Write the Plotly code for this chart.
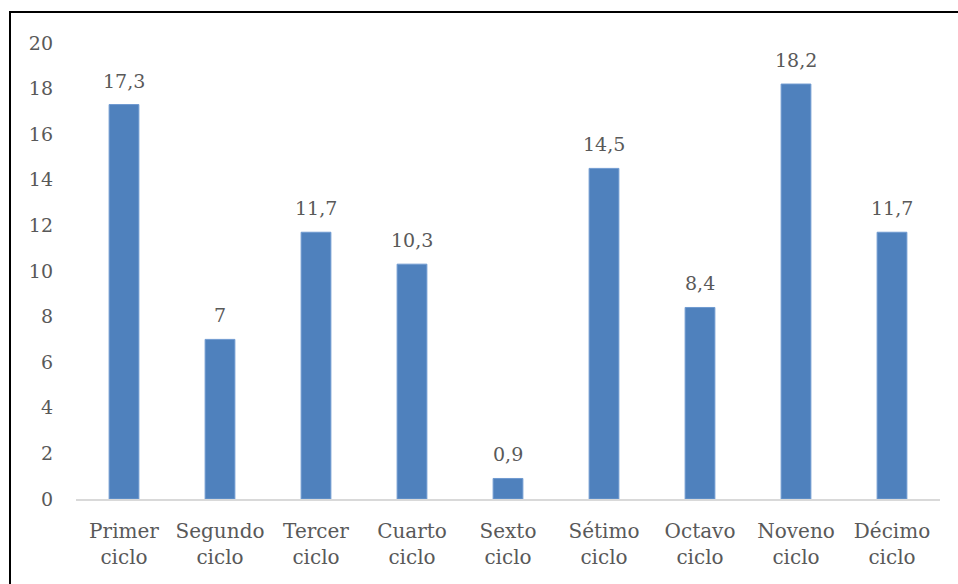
import plotly.graph_objects as go

categories = ["Primer<br>ciclo", "Segundo<br>ciclo", "Tercer<br>ciclo", "Cuarto<br>ciclo",
              "Sexto<br>ciclo", "Sétimo<br>ciclo", "Octavo<br>ciclo", "Noveno<br>ciclo",
              "Décimo<br>ciclo"]
values = [17.3, 7, 11.7, 10.3, 0.9, 14.5, 8.4, 18.2, 11.7]
y_ticks = [0, 2, 4, 6, 8, 10, 12, 14, 16, 18, 20]

labels = [f"{v:g}".replace(".", ",") for v in values]

W, H = 958, 584
ml, mr, mt, mb = 76, 18, 43, 85
pw, ph = W - ml - mr, H - mt - mb

FONT = "DejaVu Serif"
GREY = "#595959"

fig = go.Figure(go.Bar(
    x=categories, y=values,
    marker=dict(color="#4F81BD", line=dict(color="#6F9AD0", width=1)),
    width=0.31,
))

# value labels above each bar
for cat, v, lab in zip(categories, values, labels):
    fig.add_annotation(x=cat, y=v, text=lab, showarrow=False, yanchor="bottom",
                       yshift=11, font=dict(family=FONT, size=19, color=GREY))

# outer frame of the chart area
fig.add_shape(type="rect", xref="paper", yref="paper",
              x0=(10 - ml) / pw, x1=(W + 5 - ml) / pw,
              y0=-(mb + 5) / ph, y1=(H - mb - 12) / ph,
              line=dict(color="black", width=2), fillcolor="rgba(0,0,0,0)", layer="above")

fig.update_layout(
    width=W, height=H, margin=dict(l=ml, r=mr, t=mt, b=mb),
    paper_bgcolor="white", plot_bgcolor="white",
    separators=",.", showlegend=False,
    font=dict(family=FONT, size=19, color=GREY),
    xaxis=dict(showline=True, linecolor="#D9D9D9", linewidth=2, showgrid=False,
               ticks="", ticklabelstandoff=13,
               tickfont=dict(family=FONT, size=20, color=GREY)),
    yaxis=dict(range=[0, 20], tickvals=y_ticks, showgrid=False, zeroline=False,
               showline=False, ticks="", ticklabelstandoff=22,
               tickfont=dict(family=FONT, size=19, color=GREY)),
)

fig.write_html("out.html")
